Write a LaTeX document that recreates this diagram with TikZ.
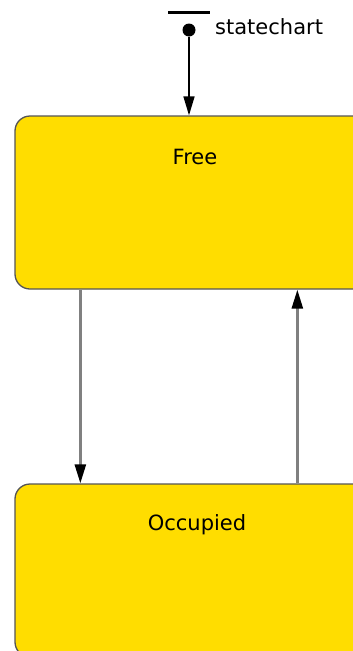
\documentclass[tikz,border=0pt]{standalone}
\usepackage{fontspec}
\setmainfont{DejaVu Sans}
\usepackage{tikz}
\usetikzlibrary{positioning, arrows.meta}

\definecolor{stateyellow}{RGB}{255,221,0}
\definecolor{stateedge}{RGB}{85,85,85}

\begin{document}
\begin{tikzpicture}[
    x=1pt, y=1pt,
    statebox/.style={draw=stateedge, fill=stateyellow, line width=1.3pt, rounded corners=15pt,
        minimum width=365pt, minimum height=173pt, inner sep=0pt},
    statename/.style={font=\fontsize{21}{24}\selectfont, inner sep=0pt},
    trans/.style={-{Triangle[length=19pt, width=11pt, color=black]}, draw=gray, line width=2.6pt},
    initarrow/.style={-{Triangle[length=19pt, width=11pt]}, line width=1.6pt}
]
    \useasboundingbox (0,0) rectangle (353,-651);

    % States
    \node[statebox] (free) at (197.5,-202.5) {};
    \node[statename] (freename) at (195,-157) {Free};
    \node[statebox] (occ) at (197.5,-570.5) {};
    \node[statename] (occname) at (197,-525) {Occupied};

    % Initial state
    \node[circle, fill=black, minimum size=13pt, inner sep=0pt] (init) at (189,-30) {};
    \coordinate (barl) at (168,-12);
    \coordinate (barr) at (210,-12);
    \draw[line width=3pt] (barl) -- (barr);
    \node[statename, anchor=west] (chartname) at (215,-27) {statechart};

    % Transitions
    \draw[initarrow] (init) -- (free.north -| init);
    \draw[trans] ([xshift=66pt]free.south west) -- ([xshift=66pt]occ.north west);
    \draw[trans] ([xshift=283pt]occ.north west) -- ([xshift=283pt]free.south west);
\end{tikzpicture}
\end{document}
